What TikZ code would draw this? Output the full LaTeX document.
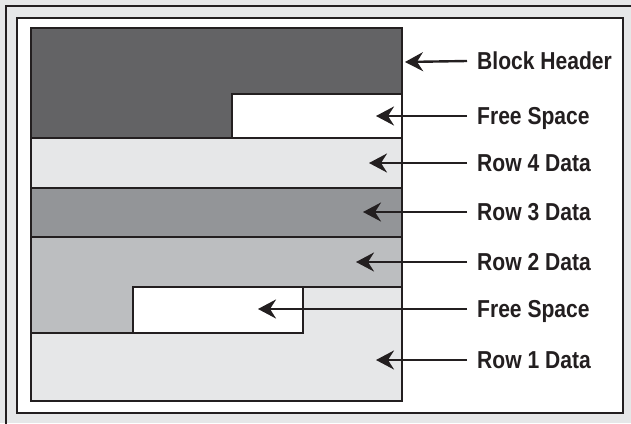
\documentclass[tikz,border=0pt]{standalone}
\usepackage{fontspec}
\setmainfont{Liberation Sans}[FakeStretch=0.86]
\usetikzlibrary{arrows.meta}
\definecolor{ink}{HTML}{231F20}
\definecolor{hdr}{HTML}{636365}
\definecolor{lite}{HTML}{E6E7E8}
\definecolor{mid}{HTML}{939598}
\definecolor{soft}{HTML}{BCBEC0}
\tikzset{
  region/.style={draw=ink, line width=1.6pt, line join=miter},
  lbl/.style={anchor=west, inner xsep=10pt, inner ysep=0pt, text height=17.5pt, text depth=0pt,
    font=\fontsize{24.5}{24.5}\selectfont\bfseries, text=ink},
  pointer/.style={draw=ink, line width=2.4pt, -{Stealth[length=18pt,width=19pt,inset=6pt]}}
}
\begin{document}
\begin{tikzpicture}[x=1pt,y=-1pt]
\useasboundingbox (0,0) rectangle (631,423);
% outer frame
\fill[lite] (0,0) rectangle (631,423);
\draw[ink, line width=1.8pt] (6,430) -- (6,6) -- (640,6);
\fill[white] (17,18) rectangle (623,413);
\draw[ink, line width=1.6pt] (17,18) rectangle (623,413);
% regions
\filldraw[region, fill=hdr] (31,28) -- (402,28) -- (402,94) -- (232,94) -- (232,138) -- (31,138) -- cycle;
\filldraw[region, fill=white] (232,94) rectangle (402,138);
\filldraw[region, fill=lite] (31,138) rectangle (402,188);
\filldraw[region, fill=mid] (31,188) rectangle (402,237);
\filldraw[region, fill=soft] (31,237) -- (402,237) -- (402,287) -- (133,287) -- (133,333) -- (31,333) -- cycle;
\filldraw[region, fill=lite] (303,287) -- (402,287) -- (402,401) -- (31,401) -- (31,333) -- (303,333) -- cycle;
\filldraw[region, fill=white] (133,287) rectangle (303,333);
% arrow tips
\coordinate (tHdr) at (405,62);
\coordinate (tFree1) at (376,116);
\coordinate (tRow4) at (369,163);
\coordinate (tRow3) at (363,212);
\coordinate (tRow2) at (356,262);
\coordinate (tFree2) at (258,309);
\coordinate (tRow1) at (376,360);
% labels
\node[lbl] (lHdr) at (467,61) {Block Header};
\node[lbl] (lFree1) at (467,116) {Free Space};
\node[lbl] (lRow4) at (467,163) {Row 4 Data};
\node[lbl] (lRow3) at (467,212) {Row 3 Data};
\node[lbl] (lRow2) at (467,262) {Row 2 Data};
\node[lbl] (lFree2) at (467,309) {Free Space};
\node[lbl] (lRow1) at (467,360) {Row 1 Data};
% pointers
\draw[pointer] (lHdr.west) -- (tHdr);
\draw[pointer] (lFree1.west) -- (tFree1);
\draw[pointer] (lRow4.west) -- (tRow4);
\draw[pointer] (lRow3.west) -- (tRow3);
\draw[pointer] (lRow2.west) -- (tRow2);
\draw[pointer] (lFree2.west) -- (tFree2);
\draw[pointer] (lRow1.west) -- (tRow1);
\end{tikzpicture}
\end{document}
